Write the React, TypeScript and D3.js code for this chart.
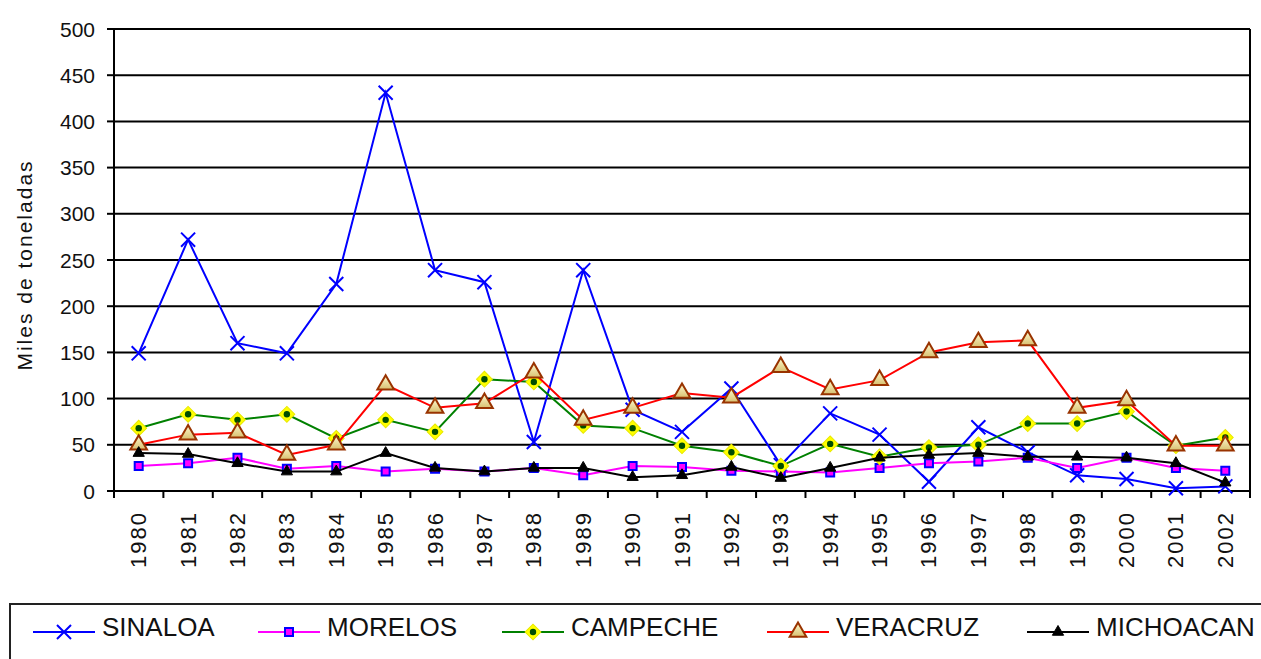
import React from "react";
import * as d3 from "d3";

const years = ["1980", "1981", "1982", "1983", "1984", "1985", "1986", "1987", "1988", "1989", "1990", "1991",
  "1992", "1993", "1994", "1995", "1996", "1997", "1998", "1999", "2000", "2001", "2002"];
const yTicks = [0, 50, 100, 150, 200, 250, 300, 350, 400, 450, 500];

const sinaloa = [149, 272, 160, 149, 224, 431, 239, 226, 53, 239, 88, 64, 111, 28, 84, 61, 10, 69, 42, 17, 13, 3, 5];
const morelos = [27, 30, 36, 24, 27, 21, 24, 21, 25, 17, 27, 26, 22, 21, 20, 25, 30, 32, 36, 25, 36, 25, 22];
const campeche = [68, 83, 77, 83, 57, 77, 64, 121, 118, 71, 68, 49, 42, 27, 51, 37, 47, 50, 73, 73, 86, 49, 58];
const veracruz = [50, 61, 63, 39, 50, 115, 90, 95, 128, 77, 90, 106, 101, 134, 110, 120, 150, 161, 163, 90, 98, 49, 49];
const michoacan = [41, 40, 30, 21, 21, 41, 25, 21, 25, 25, 15, 17, 26, 14, 25, 36, 39, 41, 37, 37, 36, 30, 9];

const seriesNames = ["SINALOA", "MORELOS", "CAMPECHE", "VERACRUZ", "MICHOACAN"];

const FONT = "'Liberation Sans', Arial, sans-serif";

const W = 1261, H = 659;
const margin = { left: 114, right: 11, top: 29, bottom: 168 };

const series = [
  { name: seriesNames[0], values: sinaloa, line: "#0000ff", kind: "x" },
  { name: seriesNames[1], values: morelos, line: "#ff00ff", kind: "square" },
  { name: seriesNames[2], values: campeche, line: "#008000", kind: "diamond" },
  { name: seriesNames[3], values: veracruz, line: "#ff0000", kind: "triangleBig" },
  { name: seriesNames[4], values: michoacan, line: "#000000", kind: "triangleSmall" },
];

const symX = d3.symbol().type(d3.symbolX).size(130)();
const symSquare = d3.symbol().type(d3.symbolSquare).size(64)();
const symDiamond = d3.symbol().type(d3.symbolSquare).size(125)();
const symTriBig = d3.symbol().type(d3.symbolTriangle).size(120)();
const symTriSmall = d3.symbol().type(d3.symbolTriangle).size(55)();

function Marker({ kind, x, y }: { kind: string; x: number; y: number }) {
  const t = `translate(${x},${y})`;
  if (kind === "x") return <path d={symX} transform={t} stroke="#0000ff" strokeWidth={2} fill="none" />;
  if (kind === "square") return <path d={symSquare} transform={t} fill="#ff00ff" stroke="#0000ff" strokeWidth={2} />;
  if (kind === "diamond")
    return (
      <g transform={t}>
        <path d={symDiamond} transform="rotate(45)" fill="#ffff00" stroke="#e8e800" strokeWidth={1} />
        <circle r={3.2} fill="#004d00" />
      </g>
    );
  if (kind === "triangleBig")
    return <path d={symTriBig} transform={t} fill="url(#triFill)" stroke="#993300" strokeWidth={2} />;
  return <path d={symTriSmall} transform={t} fill="#000" stroke="#000" strokeWidth={1} />;
}

export default function App() {
  const x = d3.scaleBand().domain(years).range([margin.left, W - margin.right]).padding(0);
  const y = d3.scaleLinear().domain([0, 500]).range([H - margin.bottom, margin.top]);
  const cx = (yr: string) => (x(yr) as number) + x.bandwidth() / 2;
  const line = d3.line<number>().x((_, i) => cx(years[i])).y(d => y(d));

  const x0 = margin.left, x1 = W - margin.right;
  const legendX = [33, 258, 502, 767, 1027];
  const legendY = 632;

  return (
    <svg width={W} height={H} style={{ position: "absolute", left: 0, top: 0, background: "#fff" }}>
      <defs>
        <linearGradient id="triFill" x1="0" y1="0" x2="0" y2="1">
          <stop offset="0%" stopColor="#fffbd0" />
          <stop offset="100%" stopColor="#d8c070" />
        </linearGradient>
      </defs>
      {/* gridlines */}
      {yTicks.map(t => (
        <g key={t}>
          <line x1={x0} x2={x1} y1={y(t)} y2={y(t)} stroke="#000" strokeWidth={2} />
          <line x1={x0 - 7} x2={x0} y1={y(t)} y2={y(t)} stroke="#000" strokeWidth={2} />
          <text x={95} y={y(t)} textAnchor="end" dominantBaseline="central" fontFamily={FONT} fontSize={21} fill="#111">
            {t}
          </text>
        </g>
      ))}
      {/* axes */}
      <line x1={x0} x2={x0} y1={y(500)} y2={y(0) + 7} stroke="#000" strokeWidth={2} />
      <line x1={x1} x2={x1} y1={y(500)} y2={y(0)} stroke="#000" strokeWidth={2} />
      {years.map(yr => (
        <g key={yr}>
          <line x1={x(yr)! + x.bandwidth()} x2={x(yr)! + x.bandwidth()} y1={y(0)} y2={y(0) + 7} stroke="#000" strokeWidth={2} />
          <text transform={`translate(${cx(yr)},511) rotate(-90)`} textAnchor="end" dominantBaseline="central"
            fontFamily={FONT} fontSize={22} letterSpacing={2} fill="#111">
            {yr}
          </text>
        </g>
      ))}
      <text transform="translate(24,265) rotate(-90)" textAnchor="middle" dominantBaseline="central"
        fontFamily={FONT} fontSize={21} letterSpacing={2} fill="#111">
        Miles de toneladas
      </text>
      {/* series */}
      {series.map(s => (
        <g key={s.name}>
          <path d={line(s.values) || ""} fill="none" stroke={s.line} strokeWidth={2} />
          {s.values.map((v, i) => (
            <Marker key={i} kind={s.kind} x={cx(years[i])} y={y(v)} />
          ))}
        </g>
      ))}
      {/* legend */}
      <rect x={10} y={604} width={1300} height={100} fill="none" stroke="#222" strokeWidth={2} />
      {series.map((s, i) => (
        <g key={s.name}>
          <line x1={legendX[i]} x2={legendX[i] + 62} y1={legendY} y2={legendY} stroke={s.line} strokeWidth={2} />
          <Marker kind={s.kind} x={legendX[i] + 31} y={legendY} />
          <text x={legendX[i] + 69} y={legendY - 5} dominantBaseline="central" fontFamily={FONT} fontSize={26} fill="#111">
            {s.name}
          </text>
        </g>
      ))}
    </svg>
  );
}
